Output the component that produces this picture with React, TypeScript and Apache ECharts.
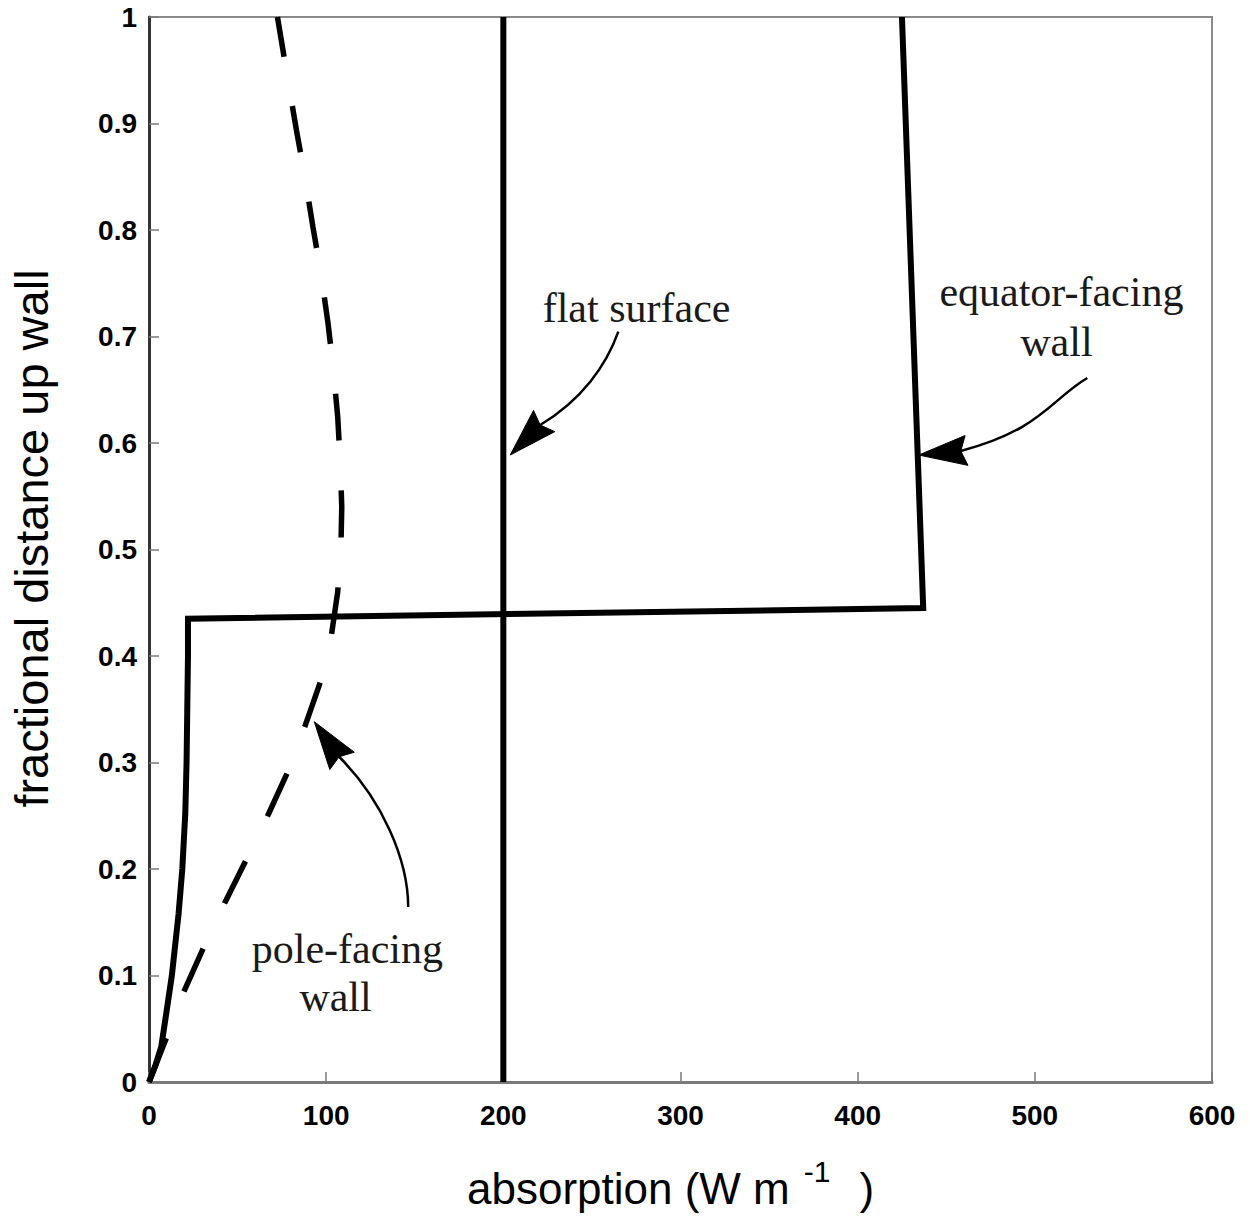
import React, { useEffect, useRef } from "react";
import * as echarts from "echarts";

// ---- data ----
const xTicks = [0, 100, 200, 300, 400, 500, 600];
const yTicks = [0, 0.1, 0.2, 0.3, 0.4, 0.5, 0.6, 0.7, 0.8, 0.9, 1];

// equator-facing wall (solid, thick)
const equatorWall: [number, number][] = [
  [0, 0], [3.5, 0.015], [6.9, 0.033], [9.8, 0.065], [12.9, 0.1], [16.7, 0.158],
  [18.8, 0.2], [20.5, 0.253], [21.2, 0.3], [22, 0.4], [22, 0.435],
  [437, 0.445], [425, 1.0],
];

// flat surface (solid vertical)
const flatSurface: [number, number][] = [[200, 0], [200, 1]];

// pole-facing wall (dashed)
const poleWall: [number, number][] = [
  [0, 0], [10, 0.042], [20, 0.086], [31, 0.127], [43, 0.169], [55, 0.209],
  [67, 0.25], [78, 0.29], [88, 0.334], [97, 0.377], [103, 0.42], [106.5, 0.46],
  [108.3, 0.5], [108.8, 0.54], [108, 0.58], [106.5, 0.625], [104, 0.67], [101, 0.713],
  [97, 0.76], [92.5, 0.803], [88, 0.85], [83.3, 0.893], [78.5, 0.94], [74.5, 0.98], [72.5, 1.0],
];

// annotation texts
const labelTexts = ["flat surface", "equator-facing", "wall", "pole-facing", "wall"];

// ---- annotation placement (data coordinates) ----
const labelAnchors: [number, number][] = [
  [275.2, 0.7268], [515.0, 0.7418], [512.2, 0.6948], [112.0, 0.1249], [105.3, 0.0798],
];
type Arrow = { start: number[]; cp1: number[]; cp2: number[]; notch: number[]; tip: number[] };
const arrowPaths: Arrow[] = [
  { start: [264.9, 0.7045], cp1: [258.3, 0.6732], cp2: [244.3, 0.6404], notch: [220.8, 0.6169], tip: [203.9, 0.5887] },
  { start: [529.6, 0.661], cp1: [508.8, 0.6404], cp2: [503.2, 0.6122], notch: [458.2, 0.5925], tip: [434.5, 0.5887] },
  { start: [146.3, 0.1643], cp1: [146.3, 0.2085], cp2: [131.7, 0.2648], notch: [107.3, 0.3054], tip: [93.3, 0.3383] },
];

const SANS = '"Liberation Sans", Arial, Helvetica, sans-serif';
const SERIF = '"Liberation Serif", "Times New Roman", serif';

export default function App() {
  const ref = useRef<HTMLDivElement>(null);

  useEffect(() => {
    const chart = echarts.init(ref.current!, null, { renderer: "svg" });
    const option: any = {
      animation: false,
      backgroundColor: "#ffffff",
      grid: {
        left: 146, right: 38, top: 17, bottom: 139,
        show: true, borderColor: "#8a8a8a", borderWidth: 2, backgroundColor: "transparent",
      },
      xAxis: {
        type: "value", min: 0, max: 600, interval: 100,
        axisLine: { show: true, onZero: false, lineStyle: { color: "#7a7a7a", width: 3 } },
        axisTick: { show: true, inside: true, length: 10, lineStyle: { color: "#7a7a7a", width: 1.5 } },
        axisLabel: {
          margin: 19, color: "#000", fontSize: 28, fontWeight: "bold", fontFamily: SANS,
          formatter: (v: number) => String(xTicks.find((t) => Math.abs(t - v) < 1e-6) ?? v),
        },
        splitLine: { show: false },
        name: "{a|absorption (W m}{sup|-1}{a|)}",
        nameLocation: "middle",
        nameGap: 56,
        nameTextStyle: {
          padding: [0, 20, 0, 0],
          rich: {
            a: { fontSize: 44, fontFamily: SANS, color: "#000", lineHeight: 100 },
            sup: { fontSize: 30, fontFamily: SANS, color: "#000", verticalAlign: "top", padding: [18, 29, 0, 14] },
          },
        },
      },
      yAxis: {
        type: "value", min: 0, max: 1, interval: 0.1,
        axisLine: { show: true, onZero: false, lineStyle: { color: "#333", width: 3 } },
        axisTick: { show: true, inside: true, length: 10, lineStyle: { color: "#7a7a7a", width: 1.5 } },
        axisLabel: {
          margin: 12, color: "#000", fontSize: 28, fontWeight: "bold", fontFamily: SANS,
          formatter: (v: number) => {
            const t = yTicks.find((k) => Math.abs(k - v) < 1e-6) ?? v;
            return t === 0 ? "0" : t === 1 ? "1" : t.toFixed(1);
          },
        },
        splitLine: { show: false },
        name: "fractional distance up wall",
        nameLocation: "middle",
        nameRotate: 90,
        nameGap: 94,
        nameTextStyle: { fontSize: 47, fontFamily: SANS, color: "#000", padding: [0, 0, 0, 22] },
      },
      series: [
        {
          name: "equator-facing wall", type: "line", data: equatorWall, showSymbol: false, silent: true, z: 3,
          lineStyle: { color: "#000", width: 6, join: "miter", cap: "butt" },
        },
        {
          name: "flat surface", type: "line", data: flatSurface, showSymbol: false, silent: true, z: 3,
          lineStyle: { color: "#000", width: 6, cap: "butt" },
        },
        {
          name: "pole-facing wall", type: "line", data: poleWall, showSymbol: false, silent: true, z: 4,
          lineStyle: { color: "#000", width: 5.5, type: [47, 50], cap: "butt" },
        },
      ],
    };
    chart.setOption(option);

    const px = (p: number[]) => chart.convertToPixel({ gridIndex: 0 }, p) as number[];
    const graphics: any[] = [];
    arrowPaths.forEach((a) => {
      const s = px(a.start), c1 = px(a.cp1), c2 = px(a.cp2), n = px(a.notch), t = px(a.tip);
      graphics.push({
        type: "bezierCurve", silent: true, z: 10,
        shape: { x1: s[0], y1: s[1], cpx1: c1[0], cpy1: c1[1], cpx2: c2[0], cpy2: c2[1], x2: n[0], y2: n[1] },
        style: { stroke: "#000", lineWidth: 2.5, fill: null },
      });
      const dx = t[0] - n[0], dy = t[1] - n[1];
      const len = Math.hypot(dx, dy) || 1;
      const ux = dx / len, uy = dy / len;
      const L = 48, W = 15;
      const bx = t[0] - ux * L, by = t[1] - uy * L;
      graphics.push({
        type: "polygon", silent: true, z: 10,
        shape: { points: [[t[0], t[1]], [bx - uy * W, by + ux * W], [n[0], n[1]], [bx + uy * W, by - ux * W]] },
        style: { fill: "#000", stroke: "#000", lineWidth: 1 },
      });
    });
    labelTexts.forEach((txt, i) => {
      const p = px(labelAnchors[i]);
      graphics.push({
        type: "text", silent: true, z: 10, x: p[0], y: p[1],
        style: { text: txt, font: `42px ${SERIF}`, fill: "#1a1a1a", textAlign: "center", textVerticalAlign: "middle" },
      });
    });
    chart.setOption({ graphic: graphics });

    return () => chart.dispose();
  }, []);

  return (
    <div
      ref={ref}
      style={{ position: "fixed", left: 0, top: 0, width: 1250, height: 1221, background: "#fff" }}
    />
  );
}
